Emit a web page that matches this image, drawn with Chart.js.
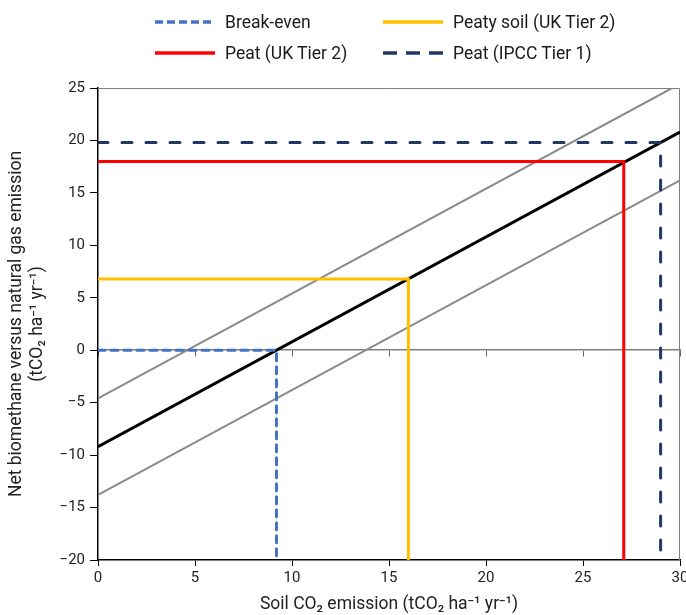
<!DOCTYPE html>
<html>
<head>
<meta charset="utf-8">
<script src="https://cdn.jsdelivr.net/npm/chart.js@4/dist/chart.umd.min.js"></script>
<style>
    body { margin: 0; background: #fff; }
    #wrap { position: relative; width: 686px; height: 615px; }
    #legend { position: absolute; left: 0; top: 0; width: 686px; height: 80px; font-family: "Roboto", sans-serif; font-size: 17.5px; color: #1a1a1a; }
    .item { position: absolute; height: 24px; display: flex; align-items: center; white-space: nowrap; }
    .item svg { margin-right: 10px; }
</style>
</head>
<body>
<div id="wrap">
    <canvas id="chart" width="686" height="615"></canvas>
    <div id="legend"></div>
</div>
<script>
// soil CO2 emission (x) vs net emission (y)
const xTickValues = [0, 5, 10, 15, 20, 25, 30];
const yTickValues = [-20, -15, -10, -5, 0, 5, 10, 15, 20, 25];

const centralX = [0, 30];
const centralY = [-9.2, 20.8];
const upperX = [0, 29.6];
const upperY = [-4.6, 25];
const lowerX = [0, 30];
const lowerY = [-13.8, 16.2];

const breakEvenX = [0, 9.2, 9.2];
const breakEvenY = [0, 0, -20];
const peatySoilX = [0, 16, 16];
const peatySoilY = [6.8, 6.8, -20];
const peatUkX = [0, 27.1, 27.1];
const peatUkY = [18, 18, -20];
const peatIpccX = [0, 29, 29];
const peatIpccY = [19.8, 19.8, -20];

const pts = (xs, ys) => xs.map((x, i) => ({ x: x, y: ys[i] }));
const fontFamily = "Roboto, 'Liberation Sans', sans-serif";

const datasets = [
    { label: 'Break-even', data: pts(breakEvenX, breakEvenY), borderColor: '#4472C4', borderWidth: 3, borderDash: [7, 6], borderCapStyle: 'round', legendDash: '8 4', legendCol: 0, legendRow: 0 },
    { label: 'Peaty soil (UK Tier 2)', data: pts(peatySoilX, peatySoilY), borderColor: '#FFC000', borderWidth: 3, legendCol: 1, legendRow: 0 },
    { label: 'Peat (UK Tier 2)', data: pts(peatUkX, peatUkY), borderColor: '#FF0000', borderWidth: 3, legendCol: 0, legendRow: 1 },
    { label: 'Peat (IPCC Tier 1)', data: pts(peatIpccX, peatIpccY), borderColor: '#203864', borderWidth: 3, borderDash: [10, 14], borderCapStyle: 'round', legendDash: '14 9', legendCol: 1, legendRow: 1 },
    { label: '', data: pts(centralX, centralY), borderColor: '#000000', borderWidth: 3 },
    { label: '', data: pts(upperX, upperY), borderColor: '#8a8a8a', borderWidth: 2 },
    { label: '', data: pts(lowerX, lowerY), borderColor: '#8a8a8a', borderWidth: 2 }
];
datasets.forEach(d => { d.showLine = true; d.pointRadius = 0; d.borderJoinStyle = 'miter'; d.fill = false; });

// thin grey frame on top and right
const framePlugin = {
    id: 'frame',
    beforeDatasetsDraw(chart) {
        const { ctx, chartArea: a } = chart;
        ctx.save();
        ctx.strokeStyle = '#7f7f7f';
        ctx.lineWidth = 1;
        ctx.beginPath();
        ctx.moveTo(a.left, a.top + 0.5);
        ctx.lineTo(a.right - 0.5, a.top + 0.5);
        ctx.lineTo(a.right - 0.5, a.bottom);
        ctx.stroke();
        ctx.restore();
    }
};

const chart = new Chart(document.getElementById('chart').getContext('2d'), {
    type: 'scatter',
    data: { datasets: datasets },
    plugins: [framePlugin],
    options: {
        responsive: false,
        animation: false,
        layout: { padding: { top: 88, right: 6, left: 0, bottom: 0 } },
        plugins: { legend: { display: false }, tooltip: { enabled: false } },
        scales: {
            x: {
                type: 'linear', min: 0, max: 30,
                afterBuildTicks: s => { s.ticks = xTickValues.map(v => ({ value: v })); },
                afterFit: s => { s.height = 55; s.paddingLeft = 0; s.paddingRight = 0; },
                grid: { drawOnChartArea: false, color: '#000', tickLength: 6 },
                border: { color: '#000', width: 1.5 },
                ticks: { color: '#222', padding: 3, font: { family: fontFamily, size: 15 } },
                title: { display: true, text: 'Soil CO₂ emission (tCO₂ ha⁻¹ yr⁻¹)', color: '#222', padding: { top: 4, bottom: 0 }, font: { family: fontFamily, size: 17.5 } }
            },
            x0: {
                type: 'linear', min: 0, max: 30, position: { y: 0 },
                afterBuildTicks: s => { s.ticks = xTickValues.map(v => ({ value: v })); },
                afterFit: s => { s.paddingLeft = 0; s.paddingRight = 0; },
                grid: { drawOnChartArea: false, color: '#666', tickLength: 6 },
                border: { color: '#808080', width: 1.5 },
                ticks: { display: false }
            },
            y: {
                type: 'linear', min: -20, max: 25,
                afterBuildTicks: s => { s.ticks = yTickValues.map(v => ({ value: v })); },
                afterFit: s => { s.width = 98; s.paddingTop = 0; s.paddingBottom = 0; },
                grid: { drawOnChartArea: false, color: '#000', tickLength: 8 },
                border: { color: '#000', width: 1.5 },
                ticks: { color: '#222', padding: 5, font: { family: fontFamily, size: 15 }, callback: v => String(v).replace('-', '\u2212') },
                title: { display: true, text: ['Net biomethane versus natural gas emission', '(tCO₂ ha⁻¹ yr⁻¹)'], color: '#222', padding: { top: 7, bottom: 0 }, font: { family: fontFamily, size: 17.5, lineHeight: 1.15 } }
            }
        }
    }
});

// two-column legend built from the datasets
const legendEl = document.getElementById('legend');
const colX = [155, 383];
const rowY = [10, 41];
chart.data.datasets.forEach(d => {
    if (!d.label) return;
    const item = document.createElement('div');
    item.className = 'item';
    item.style.left = colX[d.legendCol] + 'px';
    item.style.top = rowY[d.legendRow] + 'px';
    const dash = d.legendDash ? ` stroke-dasharray="${d.legendDash}"` : '';
    item.innerHTML = `<svg width="60" height="6"><line x1="0" y1="3" x2="60" y2="3" stroke="${d.borderColor}" stroke-width="3.5"${dash}/></svg><span>${d.label}</span>`;
    legendEl.appendChild(item);
});
</script>
</body>
</html>
